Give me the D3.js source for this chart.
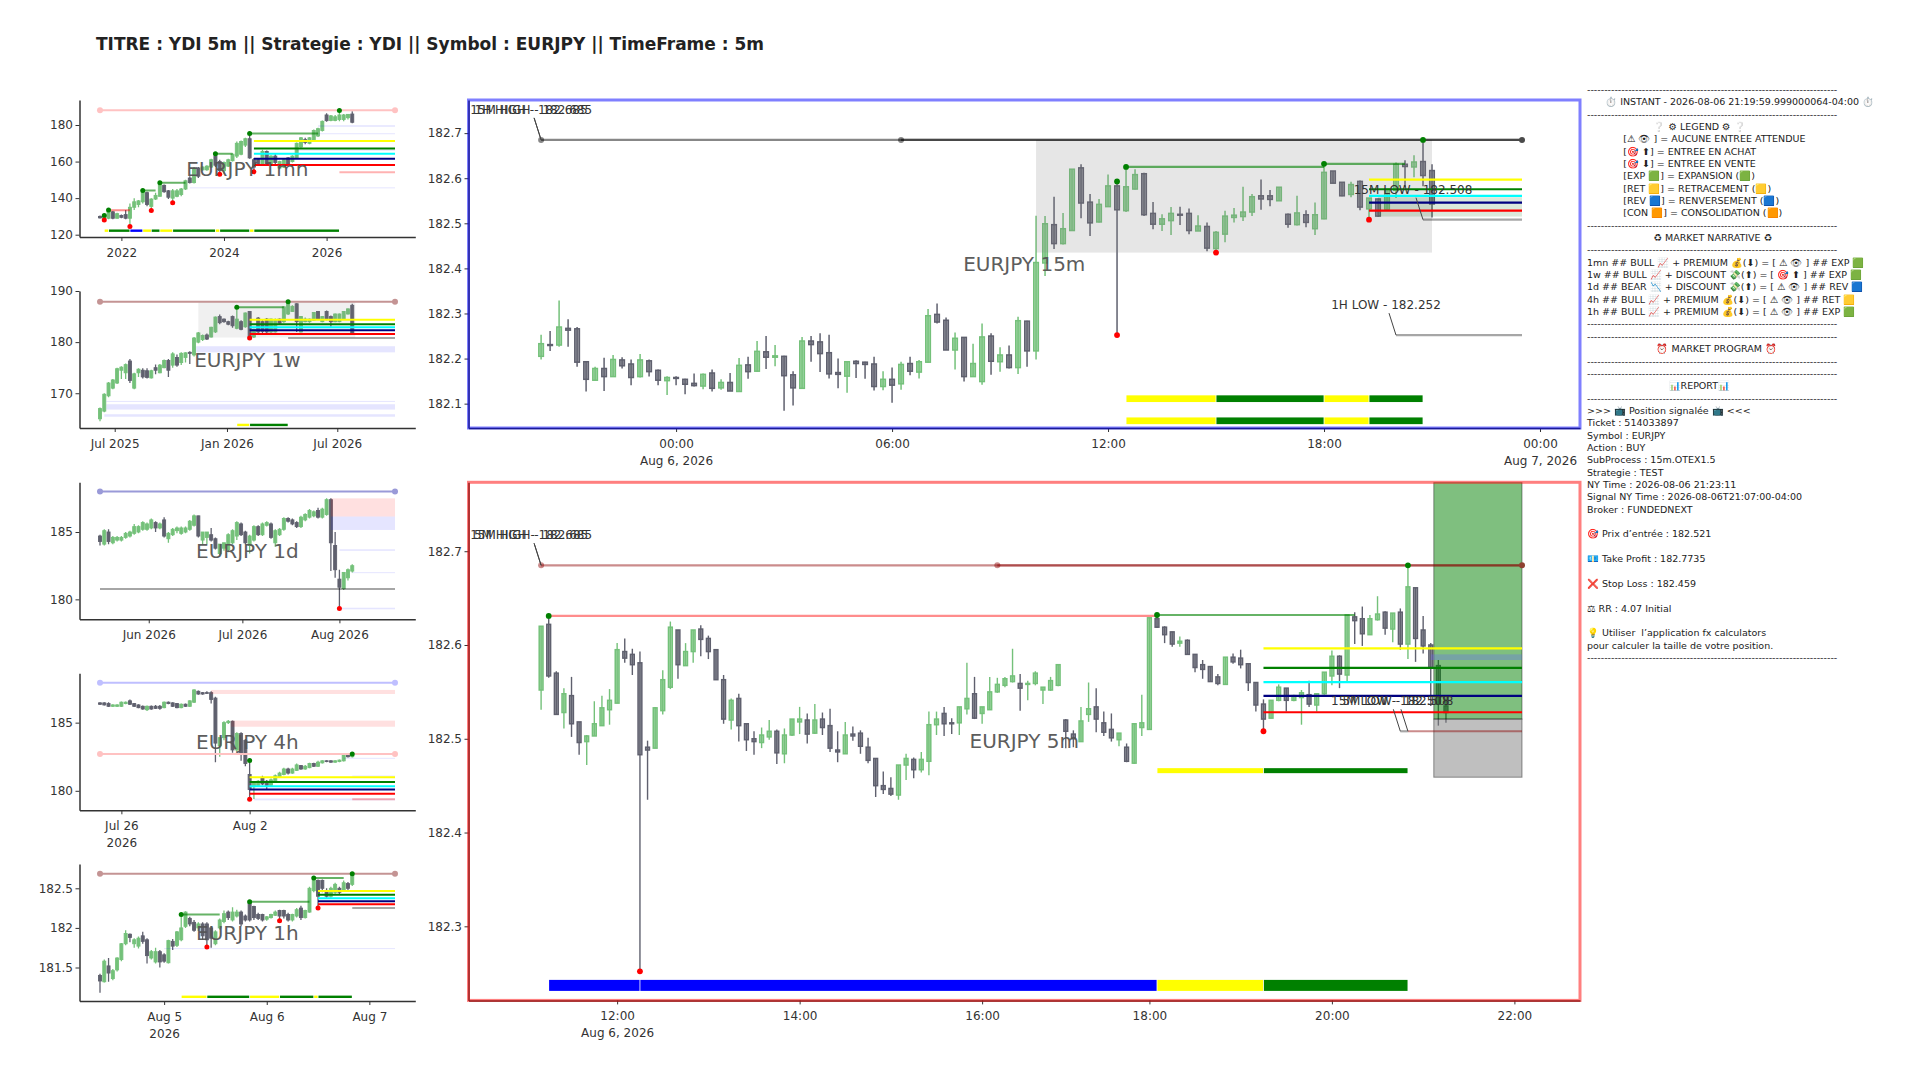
<!DOCTYPE html>
<html>
<head>
<meta charset="utf-8">
<script src="https://cdn.jsdelivr.net/npm/d3@7"></script>
<style>
  html, body { margin: 0; background: #fff; }
  svg text { font-family: "DejaVu Sans", sans-serif; }
</style>
</head>
<body>
<svg id="chart" width="1920" height="1080"></svg>
<script>
/* EURJPY multi timeframe board – five small charts, 15m + 5m, text report */

/* -- Data: candles are [open, high, low, close] ---------------------------- */
const candles1mn = [
  [130,130.5,128.8,129.2],[128.8,130.5,128,130.2],[129,133.5,128.5,132.5],[132.5,133,128.5,129],[129,132,128.8,131.5],
  [130.5,131,129,129.5],[131,133.5,128.5,129],[129,137,124.5,135],[135,140,133.5,138],[136.5,139,135,138.5],
  [138,144.2,137,143],[143,143.5,135.5,136.5],[135.5,140,133.2,139.5],[139.5,143,139,141.5],[141,148.4,141,147],
  [147,147.5,143,143.5],[144,144.5,139.5,140.5],[140,145,137.5,144],[141,145,140.5,144],[142,145.5,141,145],
  [145,150,144.5,149.5],[151,152,148,148.5],[148.5,157,148,156],[156.5,157,151,152],[155.5,157.5,155,157],
  [155.5,158,155,157.5],[157,161.5,156.5,161],[163,164.3,157,158],[160,161,153,155],[155,160,153.5,159.5],
  [157.5,161.5,157,161],[160.5,164.5,160,164],[163,171,162,170],[164,171.5,163.5,171],[169,173,168,172.5],
  [172.5,175.4,161.5,162],[161,162,154.4,157],[161,162,158,159],[158.5,166.5,158,165.5],[165.5,166,158.5,159],
  [159,163.5,158.5,163],[163,164,158,159.5],[156.5,160.5,156,160],[157,161.5,156.5,161],[162,162.5,157.5,158.5],
  [160,163.5,159.5,163],[162,170.5,161.5,170],[168,173.5,167.5,173],[172,173,169.5,170.5],[170,173.5,169.5,173],
  [172,177.5,171.5,177],[174,178.5,173.5,178],[177,182.5,176.5,182],[185.5,186.5,181.8,182.4],[182.5,185.5,182,185],
  [182.5,185.5,182,184.5],[183,188,182,185.5],[183,186,182,185.5],[184,186,183,185.8],[186,187.5,181,181.5]
];
const candles1w = [
  [165,167.2,164.5,167],[166.5,170,166.3,169.8],[169.5,172.2,169.2,172],[171,172.8,170.8,172.6],[172,175,171.8,174.8],
  [174.5,175.3,172.8,175.1],[174,175.8,172.8,175.6],[176.3,176.7,172,172.5],[171,174,170.8,173.8],[174,174.9,173.2,174.7],
  [174.5,174.9,172.9,173.2],[174.4,174.9,172.9,173.1],[173,174.6,172.9,174.4],[175,175.6,173.7,174.5],[174,175.7,173.9,175.5],
  [175,176.6,174.9,176.4],[176.4,176.7,173.2,174.5],[175.5,178,175,177.7],[177,177.6,175.2,175.5],[176,178,175.5,177.8],
  [177,178,176,177.9],[178,178.2,175.7,177.8],[177.5,181,177.2,180.8],[180,182,179.8,181.8],[180.5,181.5,180.2,181.3],
  [181.4,181.7,180.4,180.6],[181,183,180.9,182.9],[182,185,181.8,184.9],[185,185.4,183.5,183.8],[184.5,184.6,183.8,184],
  [184,184.2,183.3,183.5],[185,185.2,182.8,183.2],[182.7,186.8,182.5,184.5],[184,184.3,182.3,182.5],[183,185.8,182.8,185.7],
  [186,186,180.8,181],[181,182.6,180.8,182.5],[184.7,184.9,181.7,182],[184,184.5,181.8,182.1],[184.5,184.7,181.8,182],
  [182,184.6,181.8,184.5],[182,184.6,181.9,184.4],[184.5,184.6,183.5,183.7],[184,187,183.8,186.9],[185.5,187.9,185.3,187.4],
  [186,187.2,185.9,187],[187.5,187.6,182,184],[182,185.1,181.9,185],[184,184.8,183.9,184.5],[184,184.6,183.8,184.5],
  [184.3,185.9,184.2,185.8],[186,186.1,184.4,184.5],[184,185.1,183.9,185],[186,186.2,184.3,184.5],[185,185.2,183,184],
  [184,185.6,183.9,185.5],[184,185.6,183.9,185.5],[184.5,186.1,184.4,186],[185.5,186.6,185.4,186.5],[187.2,187.5,181.5,181.6]
];
const candles1d = [
  [184.7,184.8,184,184.3],[184.1,185.2,184,185.1],[185,185.2,184.1,184.3],[184.2,184.7,184.1,184.6],[184.4,184.7,184.3,184.6],
  [184.4,184.7,184.3,184.6],[184.6,185,184.5,184.9],[184.7,185.1,184.6,185],[184.9,185.6,184.8,185.4],[185,185.5,184.9,185.4],
  [185.2,185.8,185.1,185.7],[185.2,185.7,185.1,185.6],[185.3,186,185.2,185.9],[185.7,185.8,185,185.3],[185.3,185.7,185.2,185.6],
  [185.9,186.1,184.6,184.7],[184.5,185,184.2,184.9],[184.8,185.3,184.7,185.2],[185.1,185.4,184.9,185.3],[184.9,185.4,184.8,185.3],
  [185,185.4,184.9,185.3],[185.2,185.9,185.1,185.8],[185.5,186.3,185.4,186.2],[186.2,186.2,184.6,184.7],[184.4,185,184.1,185],
  [184.6,185,184.1,185],[184.8,185.3,184.3,184.4],[184.5,184.6,183.7,183.8],[183.4,184.1,183.3,184.1],[183.8,184.2,183.6,184.2],
  [183.7,184.9,183.5,184.8],[184.2,185.2,184.1,185.1],[184.7,185.8,184.4,185.7],[185.6,185.7,184.7,184.8],[185,185.1,184.1,184.2],
  [184,184.8,183.4,184.7],[184.4,185.5,184.3,185.4],[185.4,185.5,184.7,184.8],[184.8,185.7,184.7,185.6],[185.5,185.8,185.4,185.7],
  [185.6,185.7,184.5,184.6],[184.2,185.2,183.9,185.1],[184.8,185.3,184.7,185.2],[185.2,186.1,185.1,186],[186,186.1,185.7,185.8],
  [185.9,186,185.5,185.6],[185.7,185.8,185.3,185.4],[185.4,186.2,185.3,186.1],[185.9,186.4,185.8,186.3],[186.1,186.7,186,186.6],
  [186.2,186.6,186.1,186.5],[186.6,186.8,186,186.1],[186.1,186.8,186,186.7],[186.3,187.5,186.2,187.4],[187.4,187.5,182.1,184.2],
  [184,185,181.6,182.2],[181.5,182.2,179.3,180.9],[180.8,182,180.7,182],[181.6,182.3,181.4,182.2],[182.1,182.6,182,182.5]
];
const candles4h = [
  [186.45,186.5,186.3,186.35],[186.45,186.5,186.25,186.3],[186.4,186.5,186.15,186.2],[186.2,186.35,186.15,186.3],[186.2,186.35,186.15,186.3],
  [186.2,186.55,186.15,186.5],[186.4,186.55,186.35,186.5],[186.6,186.7,186.3,186.35],[186.4,186.45,186.15,186.2],[186.3,186.35,186.05,186.1],
  [186.2,186.25,185.95,186],[185.95,186.25,185.85,186.2],[186.2,186.25,185.95,186],[186.2,186.3,186,186.05],[186.2,186.3,185.95,186.05],
  [186.1,186.55,186.05,186.5],[186.5,186.55,186.35,186.4],[186.45,186.5,186.15,186.2],[186.4,186.45,186.05,186.1],[186.1,186.4,186.05,186.35],
  [186.35,186.4,186.15,186.2],[186.2,186.65,186.15,186.6],[186.5,187.45,186.45,187.4],[187.3,187.35,187.05,187.1],[187.2,187.25,187.05,187.1],
  [187.2,187.3,187.1,187.15],[187.2,187.3,186.4,186.7],[186.8,186.9,182.1,183.5],[183.3,183.9,182.5,183.9],[183.9,185.1,183.7,185],
  [185,185.2,184.9,185.1],[185.1,185.15,182.8,183],[183,184.3,182.9,184.2],[184.2,184.3,182.2,182.7],[183.7,183.8,181.8,182],
  [181.2,182.22,179.38,180.1],[180.3,180.7,179.4,180.6],[180.4,180.8,180.3,180.7],[180.9,181.1,180.4,180.5],[180.7,180.8,180.1,180.4],
  [180.4,180.9,180.35,180.8],[180.7,181.2,180.65,181.1],[181,181.4,180.95,181.3],[181.2,181.7,181.15,181.6],[181.6,181.7,181.2,181.3],
  [181.3,181.7,181.25,181.6],[181.5,182,181.45,181.9],[181.85,181.9,181.55,181.6],[181.6,181.9,181.55,181.8],[181.7,182.05,181.65,182],
  [182,182.05,181.75,181.8],[181.8,182.2,181.75,182.1],[182.05,182.25,182,182.2],[182.2,182.25,182.1,182.15],[182.2,182.25,182.05,182.1],
  [182.1,182.25,182.05,182.2],[182.15,182.3,182.1,182.25],[182.2,182.65,182.15,182.6],[182.6,182.65,182.45,182.5],[182.5,182.7,182.45,182.7]
];
const candles1h = [
  [181.4,181.42,181.18,181.33],[181.32,181.6,181.31,181.58],[181.52,181.62,181.32,181.43],[181.36,181.48,181.34,181.46],[181.47,181.63,181.45,181.62],
  [181.6,181.81,181.58,181.8],[181.8,181.97,181.78,181.93],[181.92,181.93,181.82,181.88],[181.8,181.87,181.75,181.85],[181.77,181.89,181.74,181.87],
  [181.9,181.95,181.8,181.83],[181.85,181.87,181.55,181.65],[181.62,181.72,181.6,181.7],[181.57,181.75,181.55,181.7],[181.7,181.72,181.5,181.57],
  [181.66,181.68,181.56,181.58],[181.56,181.85,181.55,181.84],[181.83,181.86,181.72,181.77],[181.78,181.96,181.76,181.95],[181.85,182.17,181.83,182],
  [182.02,182.21,182,182.2],[182.12,182.14,182.02,182.05],[182.07,182.1,181.95,181.97],[182,182.07,181.96,182.05],[182.05,182.07,181.85,181.9],
  [182.05,182.07,181.76,181.85],[182,182.02,181.75,181.87],[181.8,181.97,181.78,181.95],[182,182.12,181.98,182.1],[182.08,182.22,182.06,182.18],
  [182.2,182.22,182.1,182.13],[182.1,182.26,182.08,182.2],[182.15,182.23,182.13,182.2],[182.2,182.22,182.02,182.05],[182.15,182.17,182.08,182.1],
  [182.33,182.33,182.08,182.1],[182.27,182.28,182.1,182.13],[182.17,182.19,182.1,182.12],[182.17,182.18,182.08,182.1],[182.11,182.15,182.09,182.14],
  [182.13,182.18,182.12,182.17],[182.16,182.22,182.15,182.2],[182.22,182.23,182.09,182.15],[182.22,182.23,182.12,182.15],[182.17,182.19,182.08,182.1],
  [182.1,182.18,182.08,182.17],[182.15,182.25,182.13,182.23],[182.25,182.28,182.1,182.13],[182.13,182.23,182.12,182.22],[182.2,182.52,182.19,182.5],
  [182.47,182.63,182.45,182.6],[182.6,182.61,182.25,182.4],[182.6,182.61,182.45,182.5],[182.47,182.5,182.38,182.4],[182.4,182.52,182.38,182.5],
  [182.45,182.57,182.43,182.55],[182.5,182.52,182.42,182.45],[182.48,182.6,182.46,182.57],[182.56,182.58,182.46,182.5],[182.55,182.685,182.53,182.66]
];

// main charts: thousandths above 182 (552 = 182.552)
const candles15m = [
  [205,253,198,233],[231,261,217,229],[230,329,226,270],[267,287,226,263],[266,270,182,192],[193,194,127,154],[152,182,151,178],[178,202,128,160],[160,208,160,198],[197,203,178,184],
  [188,198,141,158],[160,210,158,197],[195,198,160,171],[174,176,141,152],[151,161,119,158],[158,161,141,156],[154,155,121,143],[145,167,138,140],[139,167,132,165],[168,176,127,134],
  [135,154,131,147],[147,168,128,128],[127,201,127,185],[186,204,155,171],[172,239,171,216],[215,250,177,203],[203,230,183,206],[205,206,84,162],[164,172,96,135],[134,248,133,239],
  [239,250,193,231],[237,256,170,211],[213,253,156,166],[169,200,134,165],[161,194,124,193],[194,196,157,189],[192,193,155,187],[188,204,129,138],[138,172,130,154],[154,180,102,141],
  [144,193,131,187],[189,204,163,172],[170,197,156,193],[192,310,191,295],[298,322,278,281],[285,291,219,219],[219,258,176,245],[247,247,149,160],[160,233,160,189],[149,278,142,248],
  [250,256,164,194],[193,225,171,208],[208,229,178,180],[180,293,166,284],[283,284,182,217],[217,517,198,413],[412,516,383,499],[497,559,443,455],[455,523,453,488],[484,620,483,620],
  [623,631,511,545],[547,565,472,501],[503,554,502,542],[537,608,536,583],[583,593,252,530],[528,625,525,581],[576,620,575,608],[610,612,516,519],[522,547,487,498],[498,520,483,510],
  [506,536,474,522],[520,537,496,518],[522,533,476,484],[483,518,483,494],[493,502,438,445],[444,483,435,480],[476,528,458,516],[513,534,502,518],[515,581,505,525],[525,565,516,559],
  [561,597,530,554],[561,574,538,553],[550,580,550,580],[520,522,490,498],[497,561,495,523],[519,529,491,502],[488,546,474,519],[510,635,509,613],[616,616,589,589],[591,591,560,561],
  [564,592,558,586],[593,595,529,536],[532,556,510,556],[554,555,514,516],[530,576,528,576],[573,635,556,631],[631,640,580,626],[625,651,602,636],[637,685,582,606],[617,631,513,543]
];
const candles5m = [
  [552,620,531,620],[622,631,565,567],[570,572,526,526],[528,554,511,548],[546,566,502,516],[518,518,483,496],[497,504,472,503],[503,540,503,516],[514,546,514,533],[531,553,515,541],
  [538,602,538,595],[593,607,581,586],[590,596,568,579],[581,593,252,483],[491,498,435,488],[490,534,490,533],[530,573,526,563],[555,625,553,619],[616,616,564,579],[578,602,578,593],
  [593,616,581,616],[617,621,588,606],[607,610,585,593],[595,595,563,563],[563,568,516,521],[520,543,510,541],[543,548,497,514],[516,516,487,499],[500,508,483,497],[496,512,490,504],
  [502,520,499,508],[508,510,473,485],[484,511,474,504],[504,521,503,521],[518,534,505,521],[520,527,495,505],[506,537,505,520],[521,528,504,512],[514,532,486,490],[488,508,475,486],
  [484,518,484,504],[505,513,498,503],[506,509,484,492],[491,501,474,477],[479,479,438,450],[450,465,441,446],[447,459,439,441],[440,472,435,472],[472,484,456,479],[478,480,458,467],
  [467,486,464,478],[476,529,461,515],[515,529,504,521],[527,534,503,516],[517,522,505,516],[517,534,504,534],[532,581,526,543],[548,566,521,522],[527,534,516,534],[531,566,531,550],
  [550,565,549,558],[557,566,555,564],[561,596,560,567],[559,569,530,554],[558,562,541,559],[559,572,557,570],[552,555,537,555],[552,566,551,562],[557,579,556,579],[520,521,490,508],
  [505,509,491,500],[497,534,497,519],[526,560,518,532],[534,554,507,521],[517,529,503,507],[510,527,497,501],[499,506,492,506],[491,495,475,476],[474,516,473,516],[512,547,503,517],
  [510,629,510,629],[628,632,618,619],[619,620,602,611],[614,614,598,601],[602,609,598,604],[605,606,590,590],[590,590,571,576],[579,584,564,574],[577,577,561,561],[566,569,557,559],
  [558,587,558,587],[587,591,580,582],[586,595,575,579],[580,580,551,560],[560,560,529,536],[537,542,508,521],[522,541,522,541],[541,558,540,555],[554,554,529,541],[541,547,540,546],
  [544,552,515,549],[547,562,534,537],[536,548,529,548],[548,571,547,571],[567,594,557,588],[588,589,554,569],[568,632,561,632],[630,635,601,626],[628,641,599,612],[611,632,611,628],
  [627,652,626,633],[635,636,611,618],[617,634,603,634],[635,639,595,601],[601,685,585,662],[661,661,582,607],[616,631,591,599],[600,602,535,576],[578,584,514,537],[535,543,517,528]
];

// levels: [kind, first bar, last bar, price]
const levels1mn = [["pinkHi",0,69,188.04],["bear",2,7,133.4],["bull",10,13,144.2],["bull",14,20,148.4],["bull",27,31,164.3],["bull",35,51,175.4],
  ["yellow",36,69,171.2],["yellow",56,69,171.2],["green",36,69,167.2],["cyan",36,69,164.3],["navy",36,69,161.5],["red",36,69,158.1],["pink",56,69,154.2]];
const levels1w = [["brownHi",0,69,187.9],["bull",32,43,186.8],["yellow",35,69,184.4],["green",35,69,183.5],["cyan",35,69,182.9],["navy",35,69,182.3],["red",35,69,181.6],["gray",44,69,180.8]];
const levels1d = [["blueHi",0,69,188],["gray",0,69,180.77]];
const levels4h = [["skyHi",0,69,187.92],["pinkHi",0,69,182.7],["yellow",35,69,181],["green",35,69,180.65],["cyan",35,69,180.34],["navy",35,69,180.1],["red",35,69,179.78],["pink",59,69,179.38]];
const levels1h = [["brownHi",0,69,182.684],["bull",19,28,182.17],["bull",35,49,182.33],["bull",50,57,182.63],["yellow",51,69,182.466],["green",51,69,182.418],["cyan",51,69,182.374],["navy",51,69,182.336],["red",51,69,182.3],["gray",59,69,182.25]];
const levels15m = [["ink",0,109,182.685],["ink",40,109,182.685],["bull",65,87,182.625],["bull",87,96,182.632],
  ["yellow",92,109,182.597],["green",92,109,182.5755],["cyan",92,109,182.561],["navy",92,109,182.546],["red",92,109,182.528],["gray",98,109,182.508],["gray",95,109,182.252]];
const levels5m = [["maroon",0,129,182.685],["maroon",60,129,182.685],["bear",1,81,182.631],["bull",81,107,182.632],
  ["yellow",95,129,182.5965],["green",95,129,182.5755],["cyan",95,129,182.5605],["navy",95,129,182.5457],["red",95,129,182.5283],["gray",113,114,182.508],["maroon",114,129,182.508]];

// zones: [kind, first bar, last bar, price a, price b]
const zones1mn = [["faint",51,69,179.9,179],["hair",51,69,175.5,175.3],["faint",46,69,166.7,165.9],["hair",21,69,145.9,145.7]];
const zones1w = [["box",23,59.7,187.9,180.9],["faint",22.5,69,179.2,178],["hair",1.5,69,168.5,168.3],["faint",1.5,69,167.85,166.8],["faint",1,69,165.9,165.4]];
const zones1d = [["rose",54,69,187.5,186.15],["faint",54,69,186.15,185.15],["faint",56,69,183.72,183.6],["hair",59,69,182.02,181.98],["faint",56,69,179.38,179.26]];
const zones4h = [["rose",26,69,187.4,187.1],["rose",30.7,69,185.15,184.7],["hair",57,69,182.42,182.38],["hair",59,69,181.12,181.04],["faint",36,69,179.44,179.3]];
const zones1h = [["hair",15,69,181.745,181.735]];
const zones15m = [["session",55,99,182.685,182.435],["range",93,109,182.558,182.515]];
const zones5m = [["tp",117.4,129,182.7735,182.521],["sl",117.4,129,182.521,182.459],["tint",117,129,182.59,182.584]];

// dots: first list green (swing highs), second red (swing lows), as [bar, price]
const highs1mn = [[1,130.5],[2,133.5],[10,144.2],[14,148.4],[27,164.3],[35,175.4],[56,188]];
const lows1mn = [[1,128],[7,124.5],[12,133.2],[17,137.5],[28,153],[36,154.4]];
const highs1w = [[32,186.8],[44,187.9]];
const lows1w = [[35,180.8]];
const highs1d = [];
const lows1d = [[56,179.33]];
const highs4h = [[35,182.22],[59,182.7]];
const lows4h = [[35,179.38]];
const highs1h = [[19,182.17],[35,182.33],[50,182.63],[59,182.685]];
const lows1h = [[25,181.76],[42,182.09],[51,182.25]];
const highs15m = [[65,182.625],[64,182.593],[87,182.632],[98,182.685]];
const lows15m = [[64,182.252],[75,182.435],[92,182.508]];
const highs5m = [[1,182.631],[81,182.632],[114,182.685]];
const lows5m = [[13,182.252],[95,182.508]];

// round end dots of the long high lines: [bar, price, kind]
const caps1mn = [[0,188.04,"pinkHi"],[69,188.04,"pinkHi"]];
const caps1w = [[0,187.9,"brownHi"],[69,187.9,"brownHi"]];
const caps1d = [[0,188,"blueHi"],[69,188,"blueHi"]];
const caps4h = [[0,187.92,"skyHi"],[69,187.92,"skyHi"],[0,182.7,"pinkHi"],[69,182.7,"pinkHi"]];
const caps1h = [[0,182.684,"brownHi"],[69,182.684,"brownHi"]];
const caps15m = [[0,182.685,"ink"],[40,182.685,"ink"],[109,182.685,"inkDark"]];
const caps5m = [[0,182.685,"maroon"],[60,182.685,"maroon"],[129,182.685,"maroonDark"]];

// phase strips: [kind, first bar, last bar]
const strip1mn = [["yellow",1,2],["green",2,7],["blue",7,10],["yellow",10,12],["green",12,14],["yellow",14,17],["green",17,27],["yellow",27,28],["green",28,35],["yellow",35,36],["green",36,56]];
const strip1w = [["yellow",32,35],["green",35,44]];
const strip1h = [["yellow",19,25],["green",25,35],["yellow",35,42],["green",42,50],["yellow",50,51],["green",51,59]];
const strip15m = [["yellow",65,75],["green",75,87],["yellow",87,92],["green",92,98]];
const stripBig5m = [["blue",1,13],["blue",13,81],["yellow",81,95],["green",95,114]];
const stripSmall5m = [["yellow",81,95],["green",95,114]];

// annotations: [text, bar, price]
const notes15m = [["15M HIGH - 182.685",0,182.685],["1H HIGH - 182.685",0,182.685],["15M LOW - 182.508",98,182.508],["1H LOW - 182.252",95,182.252]];
const notes5m = [["15M HIGH - 182.685",0,182.685],["5M HIGH - 182.685",0,182.685],["15M LOW - 182.508",113,182.508],["5M LOW - 182.508",114,182.508]];

// ticks
const yTicks1mn = [120,140,160,180], yTicks1w = [170,180,190], yTicks1d = [180,185], yTicks4h = [180,185], yTicks1h = [181.5,182,182.5];
const yTicks15m = [182.1,182.2,182.3,182.4,182.5,182.6,182.7], yTicks5m = [182.3,182.4,182.5,182.6,182.7];
const xTicks1mn = [[5,"2022"],[29,"2024"],[53,"2026"]];
const xTicks1w = [[3.44,"Jul 2025"],[29.7,"Jan 2026"],[55.5,"Jul 2026"]];
const xTicks1d = [[11.4,"Jun 2026"],[33.3,"Jul 2026"],[56,"Aug 2026"]];
const xTicks4h = [[5,"Jul 26\n2026"],[35,"Aug 2"]];
const xTicks1h = [[15,"Aug 5\n2026"],[39,"Aug 6"],[63,"Aug 7"]];
const xTicks15m = [[15,"00:00\nAug 6, 2026"],[39,"06:00"],[63,"12:00"],[87,"18:00"],[111,"00:00\nAug 7, 2026"]];
const xTicks5m = [[10,"12:00\nAug 6, 2026"],[34,"14:00"],[58,"16:00"],[80,"18:00"],[104,"20:00"],[128,"22:00"]];

const DASH = "-".repeat(73);
const reportLines = [
  DASH,
  "      ⏱️ INSTANT - 2026-08-06 21:19:59.999000064-04:00 ⏱️",
  DASH,
  "                      ❔ ⚙ LEGEND ⚙ ❔",
  "            [⚠ 👁 ] = AUCUNE ENTREE ATTENDUE",
  "            [🎯 ⬆] = ENTREE EN ACHAT",
  "            [🎯 ⬇] = ENTREE EN VENTE",
  "            [EXP 🟩] = EXPANSION (🟩)",
  "            [RET 🟨] = RETRACEMENT (🟨)",
  "            [REV 🟦] = RENVERSEMENT (🟦)",
  "            [CON 🟧] = CONSOLIDATION (🟧)",
  DASH,
  "                      ♻ MARKET NARRATIVE ♻",
  DASH,
  "1mn ## BULL 📈 + PREMIUM 💰(⬇) = [ ⚠ 👁 ] ## EXP 🟩",
  "1w ## BULL 📈 + DISCOUNT 💸(⬆) = [ 🎯 ⬆ ] ## EXP 🟩",
  "1d ## BEAR 📉 + DISCOUNT 💸(⬆) = [ ⚠ 👁 ] ## REV 🟦",
  "4h ## BULL 📈 + PREMIUM 💰(⬇) = [ ⚠ 👁 ] ## RET 🟨",
  "1h ## BULL 📈 + PREMIUM 💰(⬇) = [ ⚠ 👁 ] ## EXP 🟩",
  DASH,
  DASH,
  "                       ⏰ MARKET PROGRAM ⏰",
  DASH,
  DASH,
  "                           📊REPORT📊",
  DASH,
  ">>> 📺 Position signalée 📺 <<<",
  "Ticket : 514033897",
  "Symbol : EURJPY",
  "Action : BUY",
  "SubProcess : 15m.OTEX1.5",
  "Strategie : TEST",
  "NY Time : 2026-08-06 21:23:11",
  "Signal NY Time : 2026-08-06T21:07:00-04:00",
  "Broker : FUNDEDNEXT",
  "",
  "🎯 Prix d’entrée : 182.521",
  "",
  "💶 Take Profit : 182.7735",
  "",
  "❌ Stop Loss : 182.459",
  "",
  "⚖ RR : 4.07 Initial",
  "",
  "💡 Utiliser  l’application fx calculators",
  "pour calculer la taille de votre position.",
  DASH
];

/* -- Styles ----------------------------------------------------------------- */
const UP = "#74c17a", DOWN = "#5f606e";
const lineStyle = {
  pinkHi:  { stroke: "#ffc2c2", w: 2 },
  brownHi: { stroke: "#c49494", w: 2 },
  blueHi:  { stroke: "#9a9ad8", w: 2 },
  skyHi:   { stroke: "#bfbfff", w: 2 },
  ink:     { stroke: "rgba(0,0,0,0.47)", w: 2 },
  inkDark: { stroke: "#4a4a4a", w: 2 },
  maroon:  { stroke: "rgba(139,0,0,0.45)", w: 2 },
  maroonDark: { stroke: "#8f4030", w: 2 },
  bull:    { stroke: "rgba(0,128,0,0.6)", w: 2 },
  bear:    { stroke: "rgba(255,0,0,0.45)", w: 2 },
  yellow:  { stroke: "#ffff00", w: 2 },
  green:   { stroke: "#008000", w: 2 },
  cyan:    { stroke: "#00ffff", w: 2 },
  navy:    { stroke: "#000080", w: 2 },
  red:     { stroke: "#ff0000", w: 2 },
  pink:    { stroke: "rgba(255,0,0,0.3)", w: 2 },
  gray:    { stroke: "rgba(0,0,0,0.35)", w: 2 }
};
const zoneStyle = {
  faint:   { fill: "rgba(0,0,255,0.1)" },
  hair:    { fill: "rgba(0,0,255,0.1)", min: 1 },
  rose:    { fill: "rgba(255,0,0,0.12)" },
  box:     { fill: "rgba(128,128,128,0.12)" },
  session: { fill: "rgba(128,128,128,0.2)" },
  range:   { fill: "rgba(0,100,0,0.14)" },
  tp:      { fill: "rgba(0,128,0,0.5)", stroke: "rgba(0,0,0,0.4)" },
  sl:      { fill: "rgba(128,128,128,0.5)", stroke: "rgba(0,0,0,0.4)" },
  tint:    { fill: "rgba(100,100,255,0.3)" }
};
const stripColor = { yellow: "#ffff00", green: "#008000", blue: "#0000ff" };

/* -- Drawing ---------------------------------------------------------------- */
const svg = d3.select("#chart");

svg.append("text")
    .attr("x", 96).attr("y", 44)
    .attr("dominant-baseline", "central")
    .attr("font-size", 17).attr("font-weight", "bold").attr("fill", "#222")
    .text("TITRE : YDI 5m || Strategie : YDI || Symbol : EURJPY || TimeFrame : 5m");

function drawChart(c) {
  const g = svg.append("g");
  const [left, right] = c.frameX, [top, bottom] = c.frameY;

  // bar index -> px, price -> px
  const bar = d3.scaleLinear().domain(c.barDomain).range(c.barRange);
  const x = d3.scaleLinear().domain([bar.invert(left), bar.invert(right)]).range([left, right]);
  const y = d3.scaleLinear().domain(c.priceDomain).range([bottom, top]);

  const defsId = "clip" + c.name;
  svg.append("clipPath").attr("id", defsId).append("rect")
      .attr("x", left).attr("y", top).attr("width", right - left).attr("height", bottom - top);
  const plot = g.append("g").attr("clip-path", `url(#${defsId})`);

  /* candles */
  const cd = plot.selectAll("g.candle").data(c.candles).enter().append("g").attr("class", "candle");
  cd.append("line")
      .attr("x1", (d, i) => x(i)).attr("x2", (d, i) => x(i))
      .attr("y1", d => y(d[1])).attr("y2", d => y(d[2]))
      .attr("stroke", d => d[3] >= d[0] ? UP : DOWN)
      .attr("stroke-width", c.wick);
  cd.append("rect")
      .attr("x", (d, i) => x(i) - c.body / 2).attr("width", c.body)
      .attr("y", d => y(Math.max(d[0], d[3])))
      .attr("height", d => Math.max(0.5, Math.abs(y(d[0]) - y(d[3]))))
      .attr("fill", d => d[3] >= d[0] ? c.upFill : c.downFill)
      .attr("stroke", d => d[3] >= d[0] ? UP : DOWN)
      .attr("stroke-width", c.edge);

  /* zones */
  plot.selectAll("rect.zone").data(c.zones).enter().append("rect")
      .attr("class", "zone")
      .attr("x", d => x(d[1])).attr("width", d => x(d[2]) - x(d[1]))
      .attr("y", d => y(d[3]))
      .attr("height", d => Math.max(zoneStyle[d[0]].min || 0, y(d[4]) - y(d[3])))
      .attr("fill", d => zoneStyle[d[0]].fill)
      .attr("stroke", d => zoneStyle[d[0]].stroke || "none");

  /* levels */
  plot.selectAll("line.level").data(c.levels).enter().append("line")
      .attr("class", "level")
      .attr("x1", d => x(d[1])).attr("x2", d => x(d[2]))
      .attr("y1", d => y(d[3])).attr("y2", d => y(d[3]))
      .attr("stroke", d => lineStyle[d[0]].stroke)
      .attr("stroke-width", d => lineStyle[d[0]].w * c.lineScale);

  /* phase strips */
  c.strips.forEach(s => {
    plot.selectAll(null).data(s.rows).enter().append("rect")
        .attr("x", d => x(d[1]) + 0.4).attr("width", d => x(d[2]) - x(d[1]) - 0.8)
        .attr("y", y(s.price) - s.h / 2).attr("height", s.h)
        .attr("fill", d => stripColor[d[0]]);
  });

  /* dots */
  plot.selectAll("circle.cap").data(c.caps).enter().append("circle")
      .attr("class", "cap")
      .attr("cx", d => x(d[0])).attr("cy", d => y(d[1])).attr("r", c.capR)
      .attr("fill", d => lineStyle[d[2]].stroke);
  const dots = (rows, col) => plot.selectAll(null).data(rows).enter().append("circle")
      .attr("cx", d => x(d[0])).attr("cy", d => y(d[1])).attr("r", c.dotR).attr("fill", col);
  dots(c.highs, "#008000");
  dots(c.lows, "#ff0000");

  /* annotations with a small leader */
  const notes = g.selectAll("g.note").data(c.notes || []).enter().append("g").attr("class", "note");
  notes.append("path")
      .attr("d", d => `M${x(d[1]) - 7},${y(d[2]) - 22}L${x(d[1])},${y(d[2])}`)
      .attr("stroke", "#444").attr("fill", "none");
  notes.append("text")
      .attr("x", d => x(d[1]) - 10).attr("y", d => y(d[2]) - 30)
      .attr("text-anchor", "middle").attr("dominant-baseline", "central")
      .attr("font-size", 12).attr("fill", "#333")
      .text(d => d[0]);

  /* watermark */
  g.append("text")
      .attr("x", (left + right) / 2).attr("y", (top + bottom) / 2)
      .attr("text-anchor", "middle").attr("dominant-baseline", "central")
      .attr("font-size", 20).attr("fill", "#555").attr("opacity", 0.95)
      .text(c.label);

  /* axes */
  const yAxis = g.append("g").attr("transform", `translate(${left},0)`)
      .call(d3.axisLeft(y).tickValues(c.yTicks).tickFormat(d3.format(c.yFormat)).tickSize(4).tickSizeOuter(0).tickPadding(2.5));
  const xAxis = g.append("g").attr("transform", `translate(0,${bottom})`)
      .call(d3.axisBottom(x).tickValues(c.xTicks.map(d => d[0])).tickSize(4).tickSizeOuter(0).tickPadding(7.5)
        .tickFormat(v => c.xTicks.find(d => d[0] === v)[1]));

  [yAxis, xAxis].forEach(a => {
    a.selectAll("text").attr("font-size", 12).attr("font-family", "DejaVu Sans").attr("fill", "#333");
    a.selectAll("line").attr("stroke", "#333");
    a.select(".domain").attr("stroke", "#333").attr("stroke-width", 1.5);
  });

  // two line tick labels
  xAxis.selectAll(".tick text").each(function (d, i) {
    const parts = c.xTicks[i][1].split("\n");
    const t = d3.select(this).text(null);
    parts.forEach((p, k) => t.append("tspan").attr("x", 0).attr("dy", k ? 16.5 : "0.71em").text(p));
  });

  /* coloured frame on top of the main charts */
  if (c.frame) {
    g.append("rect")
        .attr("x", left).attr("y", top).attr("width", right - left).attr("height", bottom - top)
        .attr("fill", "none").attr("stroke", c.frame).attr("stroke-width", 3);
  }
}

const smallX = [79.5, 415.3], smallBars = { barDomain: [0, 69], barRange: [100, 395] };
const smallLook = { wick: 1.3, body: 3, edge: 0.9, upFill: UP, downFill: DOWN, lineScale: 1, capR: 3, dotR: 2.5, frameX: smallX, yFormat: "" };
const mainLook = { frameX: [468.5, 1580], lineScale: 1.1, capR: 3, dotR: 2.9, edge: 1.5, yFormat: ".1f",
  upFill: "rgba(116,193,122,0.62)", downFill: "rgba(95,96,110,0.6)" };

drawChart({ ...smallLook, ...smallBars, name: "1mn", label: "EURJPY 1mn", frameY: [100, 237], priceDomain: [118.74, 193.68],
  candles: candles1mn, levels: levels1mn, zones: zones1mn, caps: caps1mn, highs: highs1mn, lows: lows1mn,
  strips: [{ rows: strip1mn, price: 122.2, h: 2.4 }], yTicks: yTicks1mn, xTicks: xTicks1mn });
drawChart({ ...smallLook, ...smallBars, name: "1w", label: "EURJPY 1w", frameY: [291, 428], priceDomain: [163.2, 190],
  candles: candles1w, levels: levels1w, zones: zones1w, caps: caps1w, highs: highs1w, lows: lows1w,
  strips: [{ rows: strip1w, price: 163.8, h: 2.4 }], yTicks: yTicks1w, xTicks: xTicks1w });
drawChart({ ...smallLook, ...smallBars, name: "1d", label: "EURJPY 1d", frameY: [482.3, 619.3], priceDomain: [178.52, 188.69],
  candles: candles1d, levels: levels1d, zones: zones1d, caps: caps1d, highs: highs1d, lows: lows1d,
  strips: [], yTicks: yTicks1d, xTicks: xTicks1d });
drawChart({ ...smallLook, ...smallBars, name: "4h", label: "EURJPY 4h", frameY: [673.3, 810.3], priceDomain: [178.57, 188.62],
  candles: candles4h, levels: levels4h, zones: zones4h, caps: caps4h, highs: highs4h, lows: lows4h,
  strips: [], yTicks: yTicks4h, xTicks: xTicks4h });
drawChart({ ...smallLook, ...smallBars, name: "1h", label: "EURJPY 1h", frameY: [864, 1001], priceDomain: [181.077, 182.807],
  candles: candles1h, levels: levels1h, zones: zones1h, caps: caps1h, highs: highs1h, lows: lows1h,
  strips: [{ rows: strip1h, price: 181.13, h: 2.4 }], yTicks: yTicks1h, xTicks: xTicks1h });

const inPrice = rows => rows.map(r => [182 + r[0] / 1000, 182 + r[1] / 1000, 182 + r[2] / 1000, 182 + r[3] / 1000]);

drawChart({ ...mainLook, name: "15m", label: "EURJPY 15m", barDomain: [0, 109], barRange: [541.1, 1522], frameY: [100, 428],
  priceDomain: [182.046, 182.7735], wick: 1.5, body: 4.6, candles: inPrice(candles15m),
  levels: levels15m, zones: zones15m, caps: caps15m, highs: highs15m, lows: lows15m, notes: notes15m,
  strips: [{ rows: strip15m, price: 182.111, h: 6.7 }, { rows: strip15m, price: 182.062, h: 6.7 }],
  yTicks: yTicks15m, xTicks: xTicks15m, frame: "rgba(0,0,255,0.5)" });
drawChart({ ...mainLook, name: "5m", label: "EURJPY 5m", barDomain: [0, 129], barRange: [541.1, 1522], frameY: [482.3, 1000.4],
  priceDomain: [182.221, 182.7735], wick: 1.4, body: 3.8, candles: inPrice(candles5m),
  levels: levels5m, zones: zones5m, caps: caps5m, highs: highs5m, lows: lows5m, notes: notes5m,
  strips: [{ rows: stripBig5m, price: 182.237, h: 11 }, { rows: stripSmall5m, price: 182.466, h: 5 }],
  yTicks: yTicks5m, xTicks: xTicks5m, frame: "rgba(255,0,0,0.5)" });

/* -- Text report on the right ----------------------------------------------- */
svg.append("g").selectAll("text").data(reportLines).enter().append("text")
    .attr("x", 1587).attr("y", (d, i) => 89.3 + i * 12.35)
    .attr("dominant-baseline", "central")
    .attr("font-size", 9.5).attr("fill", "#222")
    .style("white-space", "pre")
    .text(d => d);
</script>
</body>
</html>
